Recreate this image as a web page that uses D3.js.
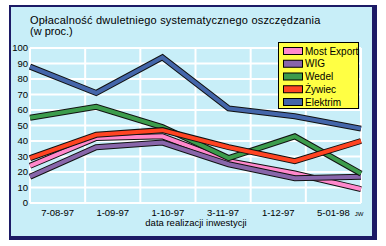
<!DOCTYPE html>
<html><head><meta charset="utf-8">
<script src="https://cdn.jsdelivr.net/npm/d3@7"></script>
<style>body{margin:0;background:#fff}svg{display:block}text{font-family:"Liberation Sans",Arial,sans-serif}</style>
</head><body>
<script>
const categories = ["7-08-97","1-09-97","1-10-97","3-11-97","1-12-97","5-01-98"];
const seriesNames = ["Most Export","WIG","Wedel","Żywiec","Elektrim"];
const mostExport = [24, 42, 43, 27, 19, 9];
const wig = [17, 36, 39, 25, 16, 17];
const wedel = [55, 62, 49, 29, 43, 19];
const zywiec = [29, 44, 47, 36, 27, 40];
const elektrim = [88, 71, 94, 61, 56, 48];
const yTicks = [0,10,20,30,40,50,60,70,80,90,100];
const colors = ["#ff88cc","#8866aa","#3c9c4c","#ff4422","#4466aa"];
const seriesValues = [mostExport, wig, wedel, zywiec, elektrim];

(function(){
const W = 386, H = 246;
const svg = d3.select("body").append("svg").attr("width", W).attr("height", H);

// frame
svg.append("rect").attr("x",9).attr("y",5).attr("width",368).attr("height",235).attr("fill","#1c1a66");
svg.append("rect").attr("x",11).attr("y",7).attr("width",361).attr("height",229).attr("fill","#c8eef8");

const pL = 30, pR = 361, pT = 48, pB = 203;
const y = d3.scaleLinear().domain([0,100]).range([pB, pT]);
const xPt = d3.scalePoint().domain(categories).range([pL, pR]);
const xBand = d3.scaleBand().domain(categories).range([pL, pR]);

// grid
const g = svg.append("g");
g.selectAll("line.h").data(yTicks).join("line")
  .attr("x1", pL).attr("x2", pR).attr("y1", d=>y(d)).attr("y2", d=>y(d))
  .attr("stroke","#fff").attr("stroke-width",2);
const vx = categories.map(c=>xBand(c)).concat([pR]);
g.selectAll("line.v").data(vx).join("line")
  .attr("x1", d=>d).attr("x2", d=>d).attr("y1", pT).attr("y2", pB)
  .attr("stroke","#fff").attr("stroke-width",2);

// y axis labels
svg.append("g").selectAll("text").data(yTicks).join("text")
  .attr("x", 28).attr("y", d=>y(d)+3).attr("text-anchor","end")
  .attr("font-size", 9.5).attr("fill","#000").text(d=>d);

// x labels
svg.append("g").selectAll("text").data(categories).join("text")
  .attr("x", d=>xBand(d)+xBand.bandwidth()/2).attr("y", 216).attr("text-anchor","middle")
  .attr("font-size", 9.5).attr("fill","#000").text(d=>d);
svg.append("text").attr("x", 196).attr("y", 226).attr("text-anchor","middle")
  .attr("font-size", 9.5).text("data realizacji inwestycji");
svg.append("text").attr("x", 359).attr("y", 216).attr("text-anchor","middle")
  .attr("font-size", 6).text("JW");

// title
svg.append("text").attr("x", 30).attr("y", 24).attr("font-size", 11).attr("letter-spacing", 0.2)
  .text("Opłacalność dwuletniego systematycznego oszczędzania");
svg.append("text").attr("x", 30).attr("y", 35).attr("font-size", 11).text("(w proc.)");

// lines
const line = d3.line().x((d,i)=>xPt(categories[i])).y(d=>y(d)).curve(d3.curveLinear);
const lg = svg.append("g");
seriesValues.forEach((vals, k) => {
  lg.append("path").attr("d", line(vals)).attr("fill","none")
    .attr("stroke","#111").attr("stroke-width",6).attr("stroke-linejoin","miter");
  lg.append("path").attr("d", line(vals)).attr("fill","none")
    .attr("stroke",colors[k]).attr("stroke-width",4).attr("stroke-linejoin","miter");
});

// legend
const leg = svg.append("g");
leg.append("rect").attr("x",278.5).attr("y",42.5).attr("width",80).attr("height",66)
  .attr("fill","#ffff44").attr("stroke","#000").attr("stroke-width",1);
const ly = d3.scalePoint().domain(seriesNames).range([51, 102]);
seriesNames.forEach((n,k)=>{
  leg.append("rect").attr("x",283.5).attr("y",ly(n)-3.5).attr("width",19).attr("height",7)
    .attr("fill",colors[k]).attr("stroke","#000").attr("stroke-width",1);
  leg.append("text").attr("x",305).attr("y",ly(n)+3.5).attr("font-size",10).text(n);
});
})();
</script>
</body></html>
